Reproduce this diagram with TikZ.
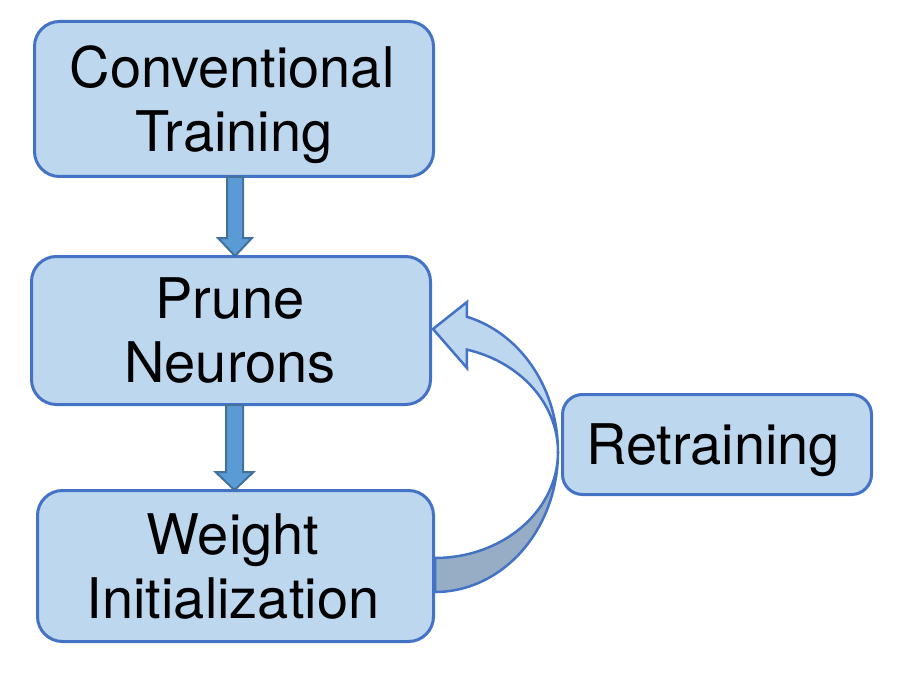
\documentclass[tikz,border=0pt]{standalone}
\usepackage{fontspec}
\setmainfont{TeX Gyre Heros}
\usetikzlibrary{calc}
\definecolor{boxfill}{HTML}{BDD7EE}
\definecolor{boxline}{HTML}{4472C4}
\definecolor{arrfill}{HTML}{5B9BD5}
\definecolor{arrline}{HTML}{41719C}
\definecolor{backface}{HTML}{97ADC5}
\tikzset{
  stepbox/.style={draw=boxline, fill=boxfill, line width=3pt, rounded corners=25pt, inner sep=0pt},
  txt/.style={font=\fontsize{56}{64}\selectfont, inner sep=0pt, anchor=base},
  fatarrow/.style={draw=arrline, fill=arrfill, line width=2pt, line join=miter},
  bandfront/.style={draw=boxline, fill=boxfill, line width=2.5pt, line join=miter},
  bandback/.style={draw=boxline, fill=backface, line width=2.5pt, line join=round}
}
\begin{document}
\begin{tikzpicture}[x=1pt,y=-1pt]
\useasboundingbox (0,0) rectangle (908,682);
% curved retraining arrow (behind boxes)
\draw[bandback] (558,452) -- plot[domain=0:-90, samples=40] ({435+123*cos(\x)},{452-140*sin(\x)})
   -- plot[domain=-90:0, samples=40] ({435+123*cos(\x)},{452-106*sin(\x)}) -- cycle;
\draw[bandfront] (558,452) -- plot[domain=0:75, samples=40] ({435+123*cos(\x)},{452-140*sin(\x)})
   -- (467,302) -- (433,329) -- (467,368)
   -- plot[domain=75:0, samples=40] ({435+123*cos(\x)},{452-106*sin(\x)}) -- cycle;
% boxes
\node[stepbox, minimum width=399pt, minimum height=155pt] (ct) at (234,99) {};
\node[stepbox, minimum width=399pt, minimum height=148pt] (pn) at (231,330.5) {};
\node[stepbox, minimum width=396pt, minimum height=151pt] (wi) at (235.5,566) {};
\node[stepbox, minimum width=309pt, minimum height=100pt, rounded corners=20pt] (rt) at (717,444.5) {};
% texts
\node[txt] (ct1) at (232,88) {Conventional};
\node[txt] (ct2) at (234,152) {Training};
\node[txt] (pn1) at (230,318) {Prune};
\node[txt] (pn2) at (230,382) {Neurons};
\node[txt] (wi1) at (233,554) {Weight};
\node[txt] (wi2) at (233,618) {Initialization};
\node[txt] (rt1) at (713,464) {Retraining};
% straight arrows
\coordinate (a1s) at ([xshift=1pt]ct.south);
\coordinate (a1e) at (a1s |- pn.north);
\draw[fatarrow] ($(a1s)+(-8,-1)$) -- ($(a1e)+(-8,-17)$) -- ($(a1e)+(-17,-17)$) -- ($(a1e)+(0,1)$)
  -- ($(a1e)+(17,-17)$) -- ($(a1e)+(8,-17)$) -- ($(a1s)+(8,-1)$) -- cycle;
\coordinate (a2s) at ([xshift=3.5pt]pn.south);
\coordinate (a2e) at (a2s |- wi.north);
\draw[fatarrow] ($(a2s)+(-8.5,-1)$) -- ($(a2e)+(-8.5,-17)$) -- ($(a2e)+(-19,-17)$) -- ($(a2e)+(0,1)$)
  -- ($(a2e)+(19,-17)$) -- ($(a2e)+(8.5,-17)$) -- ($(a2s)+(8.5,-1)$) -- cycle;
\end{tikzpicture}
\end{document}
